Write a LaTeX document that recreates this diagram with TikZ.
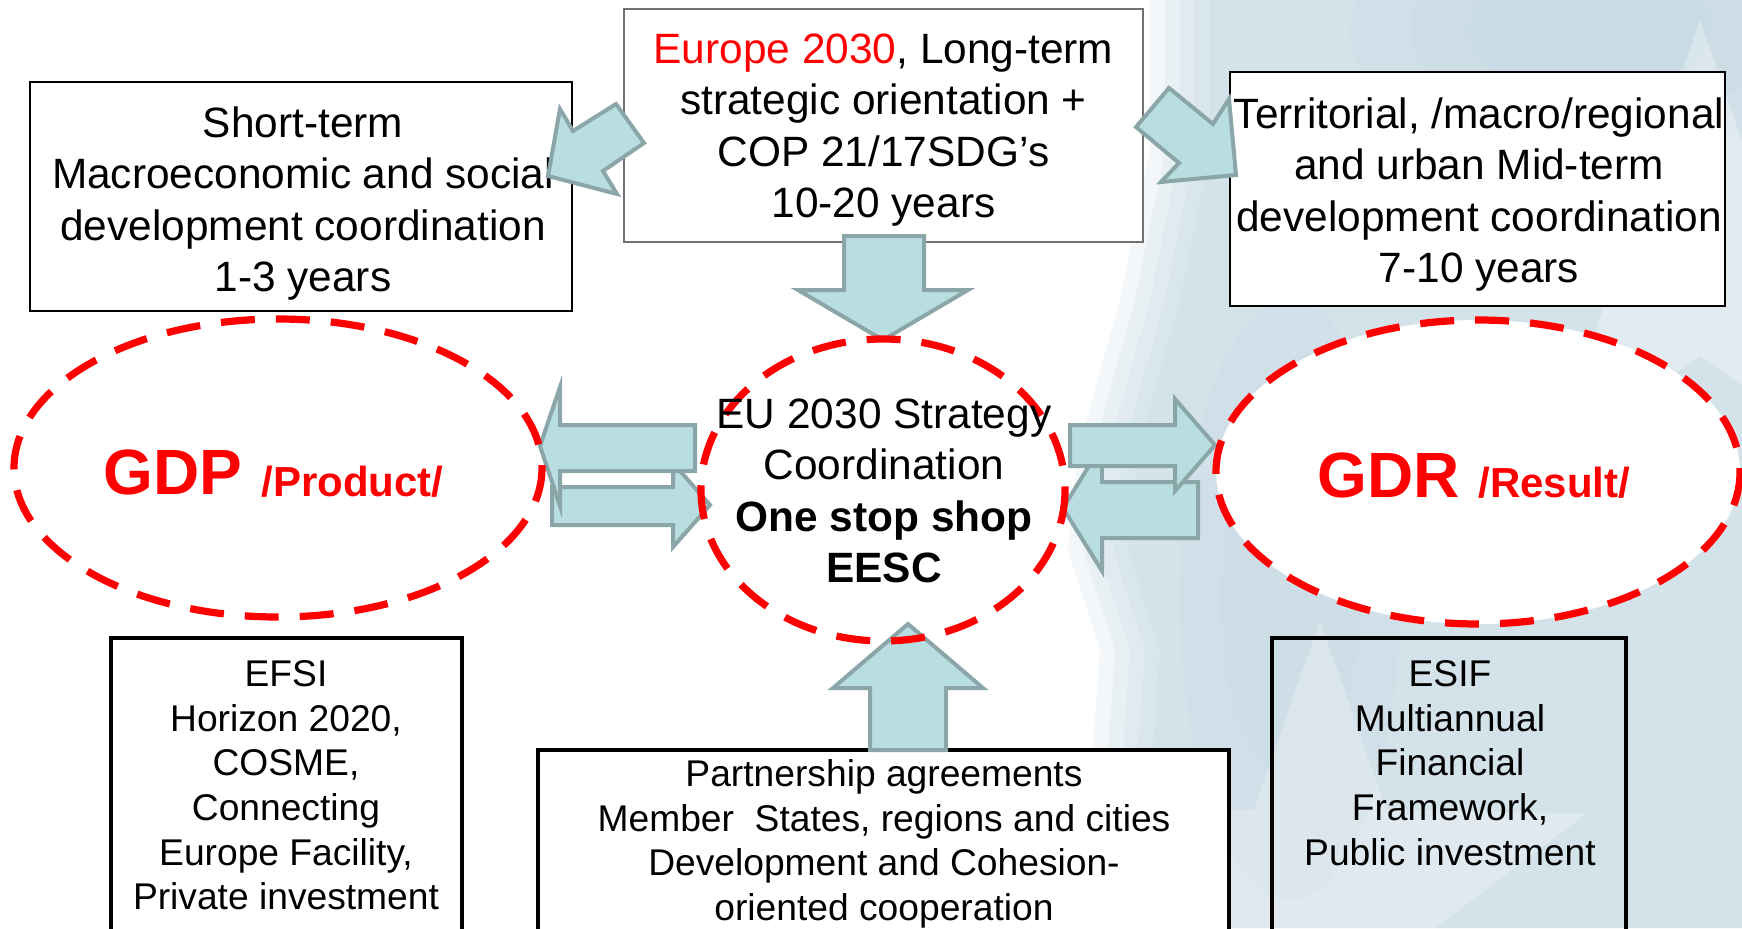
\documentclass[tikz,border=0pt]{standalone}
\usepackage{fontspec}
\setmainfont{Liberation Sans}
\definecolor{arrfill}{HTML}{B9DEE1}
\definecolor{arrdraw}{HTML}{8BA6A8}
\definecolor{bgb}{HTML}{B8CFDC}
\definecolor{boxgray}{HTML}{707070}
\begin{document}
\begin{tikzpicture}[x=0.5pt,y=-0.5pt,
  blockarrow/.style={fill=arrfill, draw=arrdraw, line width=2pt, line join=miter},
  reddash/.style={draw=red, line width=3.6pt, dash pattern=on 17pt off 10.5pt},
  bigtxt/.style={inner sep=0pt, align=center, font=\fontsize{21.2}{25.75}\selectfont, anchor=north},
  smalltxt/.style={inner sep=0pt, align=center, font=\fontsize{18.6}{22.35}\selectfont, anchor=north},
  thinbox/.style={draw=black, line width=1pt, fill=white, inner sep=0pt},
  thickbox/.style={draw=black, line width=2.25pt, inner sep=0pt},
  redbig/.style={anchor=base west, inner sep=0pt, text=red, font=\bfseries\fontsize{32}{38}\selectfont},
  redsmall/.style={anchor=base west, inner sep=0pt, text=red, font=\bfseries\fontsize{21}{25}\selectfont},
]
\useasboundingbox (0,0) rectangle (1742,928);
\clip (0,0) rectangle (1742,928);
% background watermark (soft haze built from layers)
\foreach \d in {0,15,30,45,60} {
  \fill[bgb, opacity=0.17] (1150+\d,0) -- (1742,0) -- (1742,928) -- (1080+\d,928) -- (1100+\d,650)
    -- (1068+\d,550) -- (1078+\d,450) -- (1120+\d,300) -- (1150+\d,150) -- cycle;
}
\foreach \r in {60,120,180} {
  \fill[bgb, opacity=0.15] (1590,30) ellipse [x radius=\r+60, y radius=\r/2+40];
}
\foreach \r in {40,80} {
  \fill[bgb, opacity=0.12] (1290,600) ellipse [x radius=\r+30, y radius=3*\r+60];
}
\fill[white, opacity=0.3, shift={(1700,260)}] (-90:240) -- (-54:96) -- (-18:240) -- (18:96) -- (54:240)
  -- (90:96) -- (126:240) -- (162:96) -- (198:240) -- (234:96) -- cycle;
\fill[white, opacity=0.25, shift={(1320,900)}] (-90:280) -- (-54:112) -- (-18:280) -- (18:112) -- (54:280)
  -- (90:112) -- (126:280) -- (162:112) -- (198:280) -- (234:112) -- cycle;

% ellipse fills
\fill[white] (278,468) ellipse [x radius=264, y radius=149];
\fill[white] (883,490) ellipse [x radius=182, y radius=151];
\fill[white] (1478,472) ellipse [x radius=262, y radius=152];

% boxes
\node[thinbox, draw=boxgray, line width=0.8pt, minimum width=259.5pt, minimum height=116.5pt] (topbox) at (883.5,125.5) {};
\node[thinbox, minimum width=271pt, minimum height=114.5pt] (leftbox) at (301,196.5) {};
\node[thinbox, minimum width=247.5pt, minimum height=117pt] (rightbox) at (1477.5,189) {};
\node[thickbox, fill=white, minimum width=175.5pt, minimum height=161pt] (efsibox) at (286.5,799) {};
\node[thickbox, fill=white, minimum width=345.5pt, minimum height=105pt] (partbox) at (883.5,855) {};
\node[thickbox, minimum width=177pt, minimum height=161pt] (esifbox) at (1449,799) {};

% box texts
\node[bigtxt] (toptext) at (883.5,27) {\strut\textcolor{red}{Europe 2030}, Long-term\\strategic orientation +\\COP 21/17SDG’s\\10-20 years};
\node[bigtxt] (lefttext) at (303,101) {\strut Short-term\\Macroeconomic and social\\development coordination\\1-3 years};
\node[bigtxt] (righttext) at (1479,92) {\strut Territorial, /macro/regional\\and urban Mid-term\\development coordination\\7-10 years};
\node[smalltxt] (efsitext) at (286,654.7) {\strut EFSI\\Horizon 2020,\\COSME,\\Connecting\\Europe Facility,\\Private investment};
\node[smalltxt] (parttext) at (884,754.7) {\strut Partnership agreements\\Member~ States, regions and cities\\Development and Cohesion-\\oriented cooperation};
\node[smalltxt] (esiftext) at (1450,654.7) {\strut ESIF\\Multiannual\\Financial\\Framework,\\Public investment};

% block arrows (lower ones first)
\draw[blockarrow] (552,487) -- (673,487) -- (673,463) -- (710,505) -- (673,547) -- (673,525) -- (552,525) -- cycle;
\draw[blockarrow] (695,425) -- (560,425) -- (560,387) -- (540,446) -- (560,506) -- (560,471) -- (695,471) -- cycle;
\draw[blockarrow] (1198,482) -- (1102,482) -- (1102,445) -- (1063,508) -- (1102,571) -- (1102,538) -- (1198,538) -- cycle;
\draw[blockarrow] (1070,425) -- (1175,425) -- (1175,399) -- (1215,445) -- (1175,491) -- (1175,466) -- (1070,466) -- cycle;
\draw[blockarrow] (844,236) -- (924,236) -- (924,290) -- (968,290) -- (883,340) -- (798,290) -- (844,290) -- cycle;
\draw[blockarrow] (870,750) -- (946,750) -- (946,688) -- (983,688) -- (908,624) -- (833,688) -- (870,688) -- cycle;
\draw[blockarrow] (616,104) -- (573,131) -- (560,109) -- (548,176) -- (617,194) -- (603,171) -- (644,143) -- cycle;
\draw[blockarrow] (1169,88) -- (1213,124) -- (1229,99) -- (1236,175) -- (1161,182) -- (1179,163) -- (1136,127) -- cycle;

% red dashed ellipses
\draw[reddash] (278,468) ellipse [x radius=264, y radius=149];
\draw[reddash] (883,490) ellipse [x radius=182, y radius=151];
\draw[reddash] (1478,472) ellipse [x radius=262, y radius=152];

% ellipse texts
\node[bigtxt] (centertext) at (884,392) {\strut EU 2030 Strategy\\Coordination\\\textbf{One stop shop}\\\textbf{EESC}};
\node[redbig] (gdp) at (103,494) {GDP};
\node[redsmall] (gdpsub) at (261,496) {/Product/};
\node[redbig] (gdr) at (1317,497) {GDR};
\node[redsmall] (gdrsub) at (1478,497) {/Result/};
\end{tikzpicture}
\end{document}
